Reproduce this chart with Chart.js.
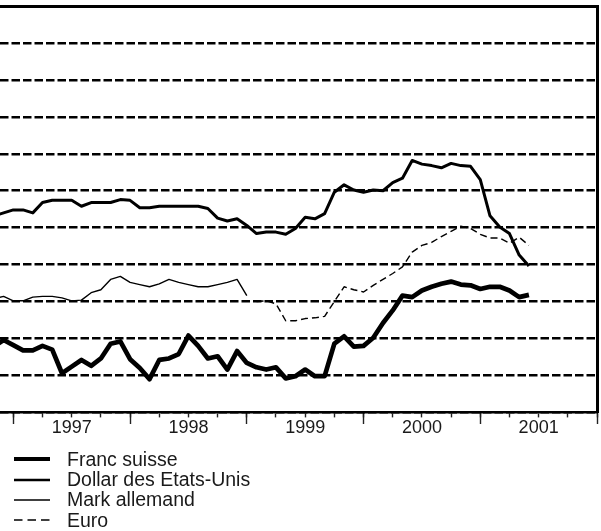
<!DOCTYPE html>
<html>
<head>
<meta charset="utf-8">
<script src="https://cdn.jsdelivr.net/npm/chart.js@4.4.1/dist/chart.umd.min.js"></script>
<style>
  html, body { margin: 0; padding: 0; background: #fff; }
  #cadre { position: relative; width: 601px; height: 531px; overflow: hidden; }
  #graphique { position: absolute; left: 0; top: 0; }
  #legende { position: absolute; left: 14px; top: 449px; font: 19.5px "Liberation Sans", Arial, sans-serif; color: #1a1a1a; }
  .ligne { display: flex; align-items: center; height: 20.4px; white-space: nowrap; }
  .ligne svg { margin-right: 17px; }
</style>
</head>
<body>
<div id="cadre">
  <canvas id="graphique" width="601" height="531"></canvas>
  <div id="legende"></div>
</div>
<script>
// mois (nov. 1996 - juin 2001)
const mois = [
  '1996-11','1996-12',
  '1997-01','1997-02','1997-03','1997-04','1997-05','1997-06','1997-07','1997-08','1997-09','1997-10','1997-11','1997-12',
  '1998-01','1998-02','1998-03','1998-04','1998-05','1998-06','1998-07','1998-08','1998-09','1998-10','1998-11','1998-12',
  '1999-01','1999-02','1999-03','1999-04','1999-05','1999-06','1999-07','1999-08','1999-09','1999-10','1999-11','1999-12',
  '2000-01','2000-02','2000-03','2000-04','2000-05','2000-06','2000-07','2000-08','2000-09','2000-10','2000-11','2000-12',
  '2001-01','2001-02','2001-03','2001-04','2001-05','2001-06'
];

const francSuisse = [
  78.9, 79.8,
  79.1, 78.4, 78.4, 79.0, 78.5, 75.3, 76.2, 77.1, 76.3, 77.3, 79.3, 79.6,
  77.2, 76.0, 74.5, 77.1, 77.3, 77.9, 80.4, 79.0, 77.3, 77.6, 75.8, 78.3,
  76.7, 76.1, 75.8, 76.1, 74.6, 74.9, 75.8, 74.9, 74.9, 79.3, 80.3, 78.9,
  79.0, 80.1, 82.1, 83.8, 85.8, 85.6, 86.5, 87.0, 87.4, 87.7, 87.3, 87.2,
  86.7, 87.0, 87.0, 86.5, 85.6, 85.9
];

const dollar = [
  96.6, 97.0,
  97.4, 97.4, 97.0, 98.4, 98.7, 98.7, 98.7, 97.9, 98.4, 98.4, 98.4, 98.8,
  98.7, 97.7, 97.7, 97.9, 97.9, 97.9, 97.9, 97.9, 97.6, 96.3, 95.9, 96.2,
  95.3, 94.2, 94.4, 94.4, 94.1, 94.9, 96.4, 96.2, 96.9, 99.8, 100.8, 100.1,
  99.8, 100.1, 100.0, 101.1, 101.7, 104.1, 103.6, 103.4, 103.1, 103.7, 103.4, 103.3,
  101.5, 96.6, 95.1, 94.2, 91.3, 89.8
];

const markAllemand = [
  85.4, 85.7,
  85.1, 85.1, 85.6, 85.7, 85.7, 85.5, 85.1, 85.2, 86.2, 86.6, 88.0, 88.4,
  87.6, 87.3, 87.0, 87.4, 88.0, 87.6, 87.3, 87.0, 87.0, 87.3, 87.6, 88.0,
  85.8, null, null, null, null, null, null, null, null, null, null, null,
  null, null, null, null, null, null, null, null, null, null, null, null,
  null, null, null, null, null, null
];

const euro = [
  null, null,
  null, null, null, null, null, null, null, null, null, null, null, null,
  null, null, null, null, null, null, null, null, null, null, null, null,
  null, 85.0, 85.1, 84.7, 82.4, 82.4, 82.7, 82.8, 83.0, 85.0, 87.0, 86.6,
  86.3, 87.2, 88.0, 88.8, 89.7, 91.7, 92.6, 93.0, 93.8, 94.5, 95.2, 94.9,
  94.1, 93.6, 93.6, 92.9, 93.7, 92.6
];

// axe des temps : trimestres, débuts d'année, étiquettes au milieu de l'année
const trimestres = [0, 3, 6, 9, 12, 15, 18, 21, 24, 27, 30, 33, 36, 39, 42, 45, 48, 51, 54, 57, 60];
const debutsAnnees = [0, 12, 24, 36, 48, 60];
const annees = ['1997', '1998', '1999', '2000', '2001'];

const police = '"Liberation Sans", Arial, sans-serif';
const xMin = -1.37, xMax = 60.05;

function indiceMois(s) {
  const [a, m] = s.split('-').map(Number);
  return (a - 1997) * 12 + (m - 1);
}

function points(valeurs) {
  return mois.map((m, i) => ({ x: indiceMois(m), y: valeurs[i] }));
}

const ctx = document.getElementById('graphique').getContext('2d');

const chart = new Chart(ctx, {
  type: 'line',
  data: {
    datasets: [
      { label: 'Franc suisse', data: points(francSuisse), borderColor: '#000', borderWidth: 4.7, legendWidth: 4.2 },
      { label: 'Dollar des Etats-Unis', data: points(dollar), borderColor: '#000', borderWidth: 3, legendWidth: 2.7 },
      { label: 'Mark allemand', data: points(markAllemand), borderColor: '#000', borderWidth: 1.4, legendWidth: 1.3 },
      { label: 'Euro', data: points(euro), borderColor: '#000', borderWidth: 1.4, borderDash: [7, 4], legendWidth: 1.3, legendDash: '8.5,5' }
    ]
  },
  options: {
    responsive: false,
    animation: false,
    devicePixelRatio: 1,
    layout: { padding: { left: 0, right: 3.5, top: 6, bottom: 92 } },
    elements: {
      point: { radius: 0 },
      line: { tension: 0, borderJoinStyle: 'round', borderCapStyle: 'butt' }
    },
    plugins: {
      legend: { display: false },
      tooltip: { enabled: false }
    },
    scales: {
      x: {
        type: 'linear',
        position: 'bottom',
        min: xMin,
        max: xMax,
        afterBuildTicks: s => { s.ticks = trimestres.map(v => ({ value: v })); },
        ticks: {
          autoSkip: false,
          maxRotation: 0,
          padding: 0,
          color: '#1a1a1a',
          font: { family: police, size: 18 },
          callback: v => (v % 12 === 6 ? annees[(v - 6) / 12] : '')
        },
        grid: { drawOnChartArea: false, tickLength: 5, tickColor: '#222', tickWidth: 1.4 },
        border: { color: '#000', width: 2.5 }
      },
      xAnnees: {
        type: 'linear',
        position: { y: 70 },
        min: xMin,
        max: xMax,
        afterBuildTicks: s => { s.ticks = debutsAnnees.map(v => ({ value: v })); },
        ticks: { display: false },
        grid: { drawOnChartArea: false, tickLength: 12, tickColor: '#222', tickWidth: 1.4 },
        border: { display: false }
      },
      xHaut: {
        type: 'linear',
        position: 'top',
        min: xMin,
        max: xMax,
        ticks: { display: false },
        grid: { drawOnChartArea: false, drawTicks: false },
        border: { color: '#000', width: 3 }
      },
      y: {
        min: 70,
        max: 125,
        ticks: { display: false, stepSize: 5 },
        grid: { color: '#000', lineWidth: 2.5, drawTicks: false },
        border: { display: false, dash: [8.5, 3] }
      },
      yDroite: {
        position: 'right',
        min: 70,
        max: 125,
        ticks: { display: false },
        grid: { drawOnChartArea: false, drawTicks: false },
        border: { color: '#000', width: 3 }
      }
    }
  }
});

// légende
const legende = document.getElementById('legende');
chart.data.datasets.forEach(ds => {
  const ligne = document.createElement('div');
  ligne.className = 'ligne';
  const dash = ds.legendDash ? ` stroke-dasharray="${ds.legendDash}"` : '';
  ligne.innerHTML = `<svg width="36" height="10"><line x1="0" y1="5" x2="36" y2="5" stroke="#000" stroke-width="${ds.legendWidth}"${dash}/></svg><span>${ds.label}</span>`;
  legende.appendChild(ligne);
});
</script>
</body>
</html>
